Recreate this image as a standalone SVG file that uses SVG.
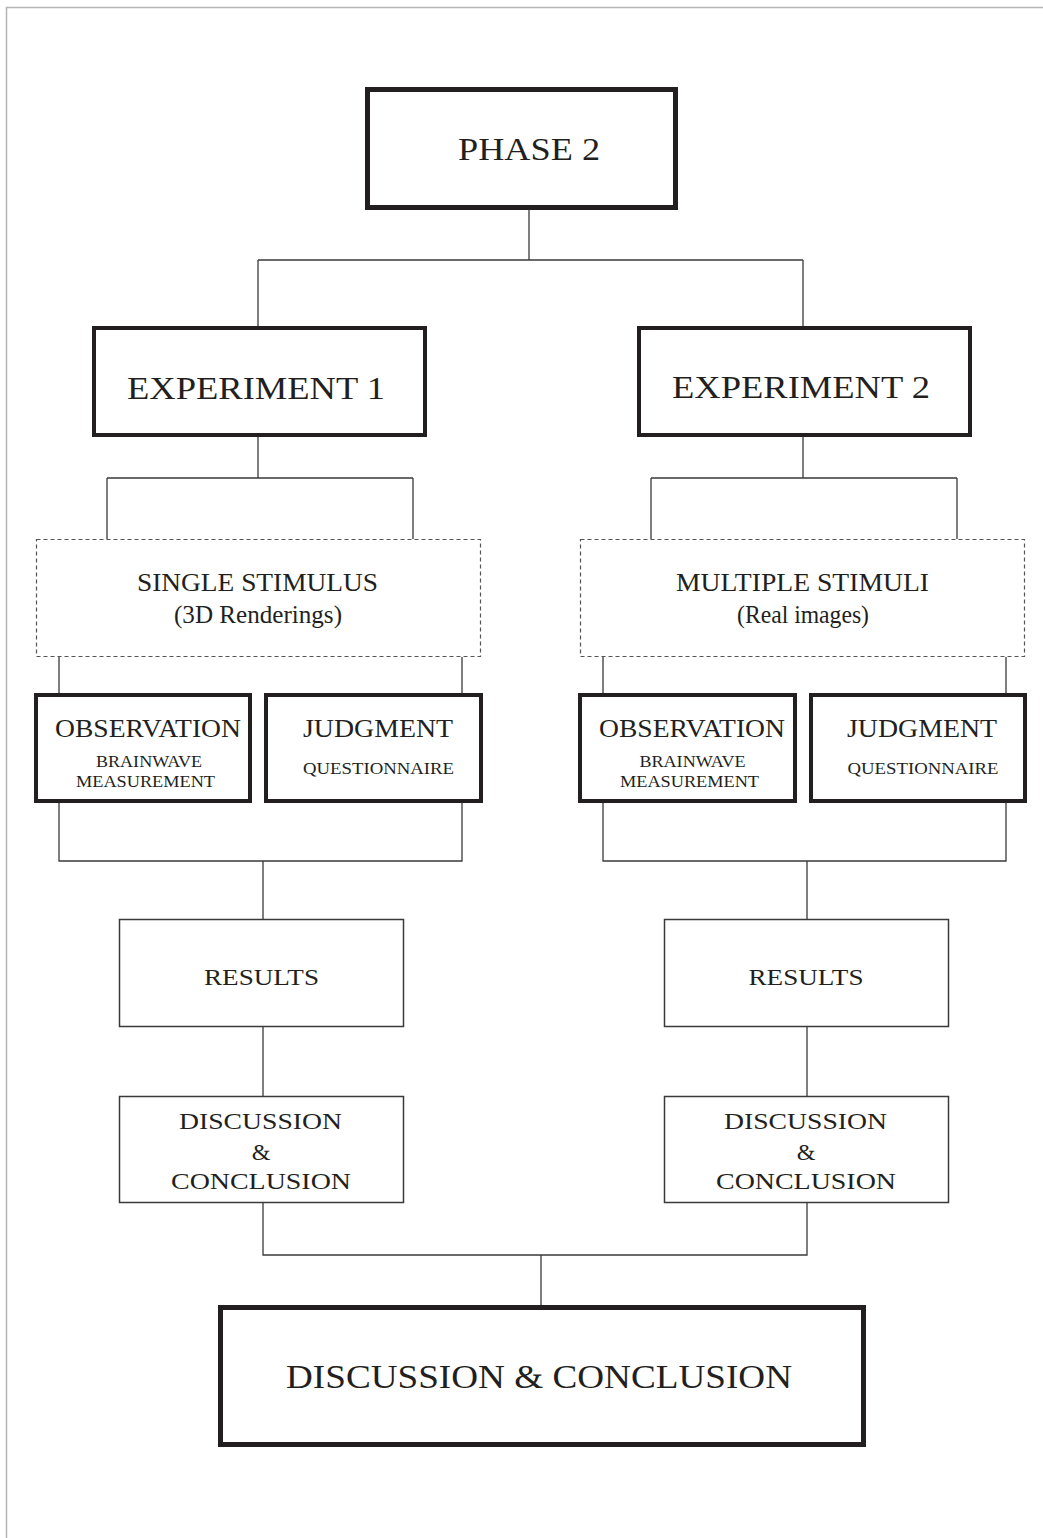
<svg xmlns="http://www.w3.org/2000/svg" width="1043" height="1538" viewBox="0 0 1043 1538">
<style>
.bg{fill:#ffffff}
.thick{fill:#ffffff;stroke:#231f20;stroke-width:5}
.med{fill:#ffffff;stroke:#231f20;stroke-width:4}
.thin{fill:#ffffff;stroke:#3a3a3a;stroke-width:1.5}
.dash{fill:#ffffff;stroke:#555555;stroke-width:1.2;stroke-dasharray:4 3}
.conn{fill:none;stroke:#3a3a3a;stroke-width:1.3}
text{font-family:"Liberation Serif","Times New Roman",serif;fill:#231f20;text-anchor:middle}
.t32{font-size:32px}
.t25{font-size:25px}
.t24{font-size:24px}
.t16{font-size:16px}
.t34{font-size:34px}
</style>
<rect class="bg" x="0" y="0" width="1043" height="1538"/>
<path d="M6.5 1538 V7.5 H1043" fill="none" stroke="#b5b5b5" stroke-width="1.5"/>
<g id="connectors">
<path class="conn" d="M529 210 V260 M258 260 H803 M258 260 V326 M803 260 V327"/>
<path class="conn" d="M258 437 V478 M107 478 H413 M107 478 V539 M413 478 V539"/>
<path class="conn" d="M803 437 V478 M651 478 H957 M651 478 V539 M957 478 V539"/>
<path class="conn" d="M59 657 V693 M462 657 V693 M59 803 V861 H462 V803 M263 861 V919"/>
<path class="conn" d="M603 657 V693 M1006 657 V693 M603 803 V861 H1006 V803 M807 861 V919"/>
<path class="conn" d="M263 1027 V1096 M807 1027 V1096"/>
<path class="conn" d="M263 1203 V1255 H807 V1203 M541 1255 V1305"/>
</g>
<g id="phase2">
<rect class="thick" x="367.5" y="89.5" width="308" height="118"/>
<text class="t32" x="529" y="160" textLength="142" lengthAdjust="spacingAndGlyphs">PHASE 2</text>
</g>
<g id="exp1">
<rect class="med" x="94" y="328" width="331" height="107"/>
<text class="t32" x="256" y="399" textLength="258" lengthAdjust="spacingAndGlyphs">EXPERIMENT 1</text>
</g>
<g id="exp2">
<rect class="med" x="639" y="328" width="331" height="107"/>
<text class="t32" x="801" y="398" textLength="258" lengthAdjust="spacingAndGlyphs">EXPERIMENT 2</text>
</g>
<g id="single">
<rect class="dash" x="36.5" y="539.5" width="444" height="117"/>
<text class="t25" x="257.5" y="591" textLength="241" lengthAdjust="spacingAndGlyphs">SINGLE STIMULUS</text>
<text class="t25" x="258" y="623" textLength="168" lengthAdjust="spacingAndGlyphs">(3D Renderings)</text>
</g>
<g id="multiple">
<rect class="dash" x="580.5" y="539.5" width="444" height="117"/>
<text class="t25" x="802.5" y="591" textLength="253" lengthAdjust="spacingAndGlyphs">MULTIPLE STIMULI</text>
<text class="t25" x="803" y="623" textLength="132" lengthAdjust="spacingAndGlyphs">(Real images)</text>
</g>
<g id="obs1">
<rect class="med" x="36" y="695" width="214" height="106"/>
<text class="t25" x="148" y="737" textLength="186" lengthAdjust="spacingAndGlyphs">OBSERVATION</text>
<text class="t16" x="149" y="767" textLength="106" lengthAdjust="spacingAndGlyphs">BRAINWAVE</text>
<text class="t16" x="145.5" y="787" textLength="139" lengthAdjust="spacingAndGlyphs">MEASUREMENT</text>
</g>
<g id="jud1">
<rect class="med" x="266" y="695" width="215" height="106"/>
<text class="t25" x="378" y="737" textLength="150" lengthAdjust="spacingAndGlyphs">JUDGMENT</text>
<text class="t16" x="378.5" y="774" textLength="151" lengthAdjust="spacingAndGlyphs">QUESTIONNAIRE</text>
</g>
<g id="obs2">
<rect class="med" x="580" y="695" width="215" height="106"/>
<text class="t25" x="692" y="737" textLength="186" lengthAdjust="spacingAndGlyphs">OBSERVATION</text>
<text class="t16" x="692.5" y="767" textLength="106" lengthAdjust="spacingAndGlyphs">BRAINWAVE</text>
<text class="t16" x="689.5" y="787" textLength="139" lengthAdjust="spacingAndGlyphs">MEASUREMENT</text>
</g>
<g id="jud2">
<rect class="med" x="811" y="695" width="214" height="106"/>
<text class="t25" x="922" y="737" textLength="150" lengthAdjust="spacingAndGlyphs">JUDGMENT</text>
<text class="t16" x="923" y="774" textLength="151" lengthAdjust="spacingAndGlyphs">QUESTIONNAIRE</text>
</g>
<g id="results1">
<rect class="thin" x="119.5" y="919.5" width="284" height="107"/>
<text class="t24" x="261.5" y="985" textLength="115" lengthAdjust="spacingAndGlyphs">RESULTS</text>
</g>
<g id="results2">
<rect class="thin" x="664.5" y="919.5" width="284" height="107"/>
<text class="t24" x="806" y="985" textLength="115" lengthAdjust="spacingAndGlyphs">RESULTS</text>
</g>
<g id="disc1">
<rect class="thin" x="119.5" y="1096.5" width="284" height="106"/>
<text class="t24" x="260.5" y="1129" textLength="163" lengthAdjust="spacingAndGlyphs">DISCUSSION</text>
<text class="t24" x="261" y="1160">&amp;</text>
<text class="t24" x="261" y="1189" textLength="180" lengthAdjust="spacingAndGlyphs">CONCLUSION</text>
</g>
<g id="disc2">
<rect class="thin" x="664.5" y="1096.5" width="284" height="106"/>
<text class="t24" x="805.5" y="1129" textLength="163" lengthAdjust="spacingAndGlyphs">DISCUSSION</text>
<text class="t24" x="806" y="1160">&amp;</text>
<text class="t24" x="806" y="1189" textLength="180" lengthAdjust="spacingAndGlyphs">CONCLUSION</text>
</g>
<g id="final">
<rect class="thick" x="220.5" y="1307.5" width="643" height="137"/>
<text class="t34" x="539" y="1388" textLength="506" lengthAdjust="spacingAndGlyphs">DISCUSSION &amp; CONCLUSION</text>
</g>
</svg>
